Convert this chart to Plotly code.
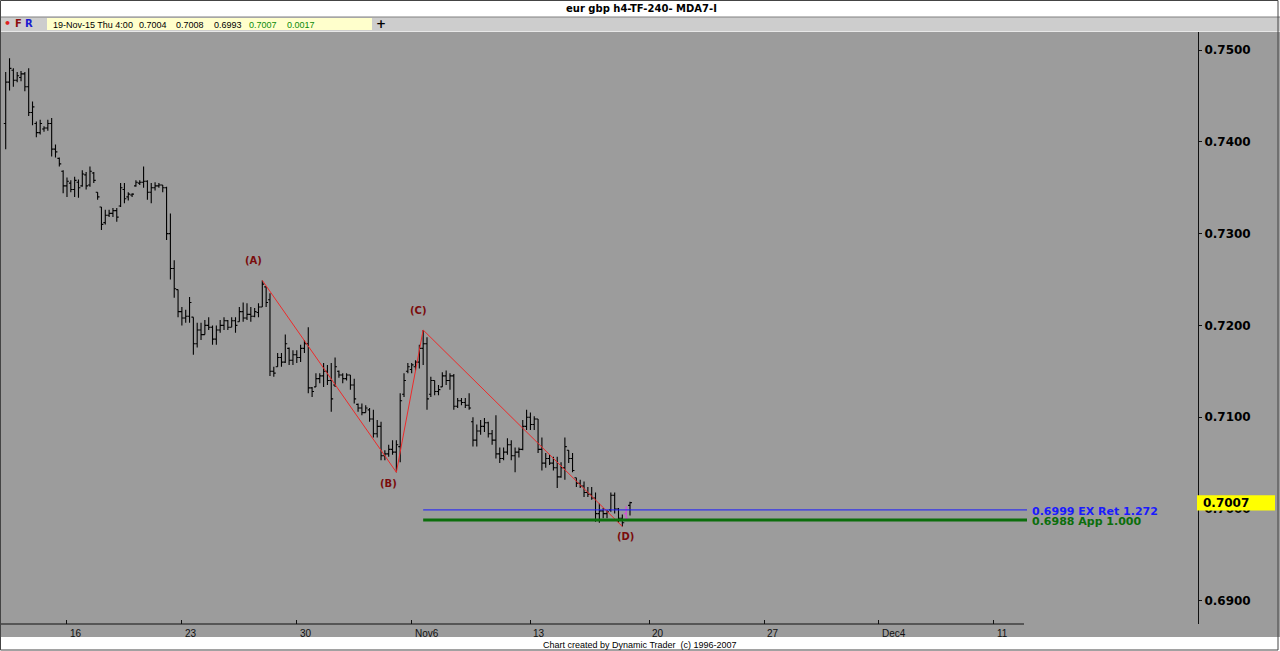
import plotly.graph_objects as go

# ---------------- data ----------------
opens = [
    0.7420, 0.7465, 0.7478, 0.7467, 0.7470, 0.7474, 0.7460, 0.7432, 0.7420, 0.7410,
    0.7414, 0.7415, 0.7420, 0.7392, 0.7382, 0.7368, 0.7352, 0.7355, 0.7348, 0.7356,
    0.7352, 0.7364, 0.7353, 0.7366, 0.7345, 0.7329, 0.7312, 0.7320, 0.7322, 0.7325,
    0.7330, 0.7348, 0.7340, 0.7342, 0.7352, 0.7355, 0.7356, 0.7357, 0.7345, 0.7350,
    0.7352, 0.7353, 0.7350, 0.7300, 0.7262, 0.7239, 0.7215, 0.7208, 0.7210, 0.7209,
    0.7180, 0.7195, 0.7190, 0.7200, 0.7198, 0.7185, 0.7195, 0.7200, 0.7205, 0.7198,
    0.7205, 0.7204, 0.7215, 0.7208, 0.7212, 0.7210, 0.7214, 0.7220, 0.7242, 0.7228,
    0.7150, 0.7155, 0.7165, 0.7160, 0.7175, 0.7162, 0.7168, 0.7165, 0.7175, 0.7180,
    0.7132, 0.7133, 0.7142, 0.7145, 0.7150, 0.7140, 0.7135, 0.7150, 0.7146, 0.7142,
    0.7146, 0.7135, 0.7114, 0.7110, 0.7105, 0.7108, 0.7098, 0.7082, 0.7090, 0.7058,
    0.7060, 0.7065, 0.7062, 0.7068, 0.7125, 0.7150, 0.7152, 0.7155, 0.7160, 0.7175,
    0.7180, 0.7125, 0.7140, 0.7128, 0.7133, 0.7145, 0.7140, 0.7145, 0.7112, 0.7118,
    0.7116, 0.7113, 0.7095, 0.7075, 0.7085, 0.7090, 0.7094, 0.7082, 0.7075, 0.7060,
    0.7055, 0.7062, 0.7070, 0.7058, 0.7062, 0.7065, 0.7090, 0.7100, 0.7092, 0.7098,
    0.7065, 0.7050, 0.7055, 0.7050, 0.7045, 0.7035, 0.7045, 0.7064, 0.7055, 0.7034,
    0.7028, 0.7025, 0.7018, 0.7016, 0.7012, 0.6995, 0.6998, 0.6995, 0.6999, 0.7015,
    0.7000, 0.6990, 0.6995, 0.7004,
]
highs = [
    0.7476, 0.7491, 0.7480, 0.7476, 0.7477, 0.7476, 0.7480, 0.7444, 0.7422, 0.7424,
    0.7417, 0.7424, 0.7426, 0.7397, 0.7383, 0.7369, 0.7361, 0.7358, 0.7362, 0.7359,
    0.7369, 0.7367, 0.7373, 0.7367, 0.7345, 0.7329, 0.7326, 0.7326, 0.7328, 0.7328,
    0.7355, 0.7355, 0.7345, 0.7344, 0.7358, 0.7358, 0.7373, 0.7358, 0.7355, 0.7356,
    0.7355, 0.7353, 0.7351, 0.7322, 0.7271, 0.7239, 0.7220, 0.7217, 0.7231, 0.7209,
    0.7203, 0.7203, 0.7206, 0.7209, 0.7200, 0.7200, 0.7206, 0.7209, 0.7206, 0.7209,
    0.7209, 0.7220, 0.7225, 0.7224, 0.7220, 0.7219, 0.7224, 0.7249, 0.7242, 0.7235,
    0.7155, 0.7170, 0.7170, 0.7190, 0.7176, 0.7173, 0.7173, 0.7179, 0.7184, 0.7198,
    0.7133, 0.7148, 0.7148, 0.7159, 0.7157, 0.7159, 0.7165, 0.7151, 0.7148, 0.7148,
    0.7146, 0.7142, 0.7115, 0.7115, 0.7113, 0.7110, 0.7108, 0.7097, 0.7095, 0.7064,
    0.7070, 0.7075, 0.7075, 0.7126, 0.7148, 0.7159, 0.7159, 0.7162, 0.7179, 0.7195,
    0.7187, 0.7144, 0.7140, 0.7135, 0.7149, 0.7151, 0.7148, 0.7147, 0.7121, 0.7121,
    0.7121, 0.7126, 0.7100, 0.7092, 0.7097, 0.7099, 0.7095, 0.7086, 0.7102, 0.7067,
    0.7067, 0.7077, 0.7075, 0.7067, 0.7067, 0.7097, 0.7108, 0.7105, 0.7101, 0.7098,
    0.7078, 0.7061, 0.7059, 0.7057, 0.7057, 0.7051, 0.7078, 0.7064, 0.7061, 0.7034,
    0.7032, 0.7030, 0.7024, 0.7024, 0.7018, 0.7006, 0.7001, 0.6999, 0.7018, 0.7018,
    0.7001, 0.6994, 0.7003, 0.7008,
]
lows = [
    0.7392, 0.7456, 0.7460, 0.7465, 0.7466, 0.7455, 0.7428, 0.7418, 0.7405, 0.7408,
    0.7411, 0.7412, 0.7384, 0.7383, 0.7373, 0.7344, 0.7340, 0.7345, 0.7340, 0.7339,
    0.7351, 0.7348, 0.7351, 0.7355, 0.7337, 0.7304, 0.7310, 0.7318, 0.7318, 0.7313,
    0.7329, 0.7333, 0.7336, 0.7340, 0.7351, 0.7353, 0.7350, 0.7337, 0.7333, 0.7347,
    0.7350, 0.7345, 0.7293, 0.7250, 0.7230, 0.7209, 0.7200, 0.7203, 0.7203, 0.7168,
    0.7176, 0.7184, 0.7190, 0.7195, 0.7179, 0.7179, 0.7192, 0.7195, 0.7195, 0.7198,
    0.7192, 0.7204, 0.7204, 0.7206, 0.7204, 0.7209, 0.7209, 0.7220, 0.7220, 0.7145,
    0.7144, 0.7155, 0.7155, 0.7159, 0.7157, 0.7157, 0.7159, 0.7160, 0.7170, 0.7126,
    0.7122, 0.7133, 0.7137, 0.7133, 0.7135, 0.7106, 0.7133, 0.7143, 0.7137, 0.7140,
    0.7130, 0.7115, 0.7106, 0.7102, 0.7105, 0.7095, 0.7078, 0.7078, 0.7053, 0.7053,
    0.7057, 0.7059, 0.7040, 0.7051, 0.7122, 0.7148, 0.7148, 0.7151, 0.7153, 0.7157,
    0.7108, 0.7122, 0.7124, 0.7124, 0.7133, 0.7135, 0.7130, 0.7108, 0.7110, 0.7113,
    0.7110, 0.7108, 0.7068, 0.7068, 0.7081, 0.7084, 0.7078, 0.7070, 0.7055, 0.7050,
    0.7053, 0.7059, 0.7053, 0.7040, 0.7056, 0.7064, 0.7086, 0.7086, 0.7086, 0.7061,
    0.7042, 0.7045, 0.7048, 0.7042, 0.7023, 0.7034, 0.7032, 0.7050, 0.7040, 0.7024,
    0.7023, 0.7013, 0.7013, 0.7010, 0.6986, 0.6985, 0.6990, 0.6990, 0.6997, 0.6995,
    0.6985, 0.6981, 0.6988, 0.6993,
]
closes = [
    0.7465, 0.7480, 0.7467, 0.7472, 0.7474, 0.7460, 0.7432, 0.7438, 0.7410, 0.7420,
    0.7415, 0.7420, 0.7392, 0.7389, 0.7376, 0.7352, 0.7357, 0.7348, 0.7358, 0.7350,
    0.7365, 0.7352, 0.7368, 0.7358, 0.7340, 0.7310, 0.7320, 0.7322, 0.7325, 0.7318,
    0.7350, 0.7338, 0.7343, 0.7343, 0.7356, 0.7356, 0.7357, 0.7345, 0.7350, 0.7352,
    0.7353, 0.7350, 0.7300, 0.7262, 0.7240, 0.7215, 0.7208, 0.7210, 0.7225, 0.7180,
    0.7195, 0.7190, 0.7200, 0.7198, 0.7185, 0.7195, 0.7200, 0.7205, 0.7198, 0.7205,
    0.7200, 0.7215, 0.7208, 0.7212, 0.7210, 0.7215, 0.7220, 0.7245, 0.7225, 0.7150,
    0.7148, 0.7165, 0.7160, 0.7180, 0.7162, 0.7168, 0.7165, 0.7175, 0.7180, 0.7132,
    0.7128, 0.7142, 0.7145, 0.7150, 0.7140, 0.7120, 0.7155, 0.7146, 0.7142, 0.7146,
    0.7135, 0.7120, 0.7110, 0.7105, 0.7110, 0.7098, 0.7082, 0.7090, 0.7058, 0.7060,
    0.7065, 0.7062, 0.7070, 0.7118, 0.7140, 0.7155, 0.7157, 0.7160, 0.7175, 0.7180,
    0.7120, 0.7140, 0.7128, 0.7130, 0.7145, 0.7140, 0.7145, 0.7112, 0.7118, 0.7116,
    0.7113, 0.7110, 0.7075, 0.7085, 0.7090, 0.7094, 0.7082, 0.7075, 0.7060, 0.7055,
    0.7062, 0.7070, 0.7058, 0.7062, 0.7065, 0.7090, 0.7100, 0.7092, 0.7098, 0.7065,
    0.7050, 0.7055, 0.7050, 0.7045, 0.7035, 0.7045, 0.7068, 0.7055, 0.7042, 0.7028,
    0.7025, 0.7018, 0.7016, 0.7012, 0.6995, 0.6998, 0.6995, 0.6997, 0.7015, 0.7000,
    0.6990, 0.6985, 0.6990, 0.7007,
]
bar_index = list(range(len(closes)))
highlight_bars = [162]          # bar drawn in magenta

# x-axis (4h bar index) date labels: Fridays
date_tick_index = [16, 46, 76, 106, 137, 168, 198, 228, 258]
date_tick_labels = ["16", "23", "30", "Nov6", "13", "20", "27", "Dec4", "11"]

price_ticks = [0.69, 0.70, 0.71, 0.72, 0.73, 0.74, 0.75]

# wave pivots
wave_names = ["(A)", "(B)", "(C)", "(D)"]
wave_index = [67, 102, 109, 161]
wave_kind = ["high", "low", "high", "low"]

# projection levels
level_values = [0.6999, 0.6988]
level_names = ["EX Ret 1.272", "App 1.000"]

title_text = "eur gbp h4-TF-240- MDA7-I"
last_bar_time = "19-Nov-15 Thu 4:00"
footer_text = "Chart created by Dynamic Trader  (c) 1996-2007"

# ---------------- layout geometry ----------------
W, H = 1280, 651
PL, PR, PT, PB = 0, 82, 32, 27
PW, PH = W - PL - PR, H - PT - PB      # 1198 x 592
BAR_PX = 3.83
FIRST_PX = 5.7
X_RANGE = [-FIRST_PX / BAR_PX, (PW - FIRST_PX) / BAR_PX]
Y_RANGE = [0.687473, 0.751961]
LEVEL_END = (1027 - FIRST_PX) / BAR_PX

def px(x):      # pixel -> paper x
    return (x - PL) / PW

def py(y):      # pixel -> paper y
    return (H - PB - y) / PH

GRAY = "#9c9c9c"
FONT = "DejaVu Sans"

fig = go.Figure()

norm_idx = [i for i in bar_index if i not in highlight_bars]
fig.add_trace(go.Ohlc(
    x=norm_idx,
    open=[opens[i] for i in norm_idx], high=[highs[i] for i in norm_idx],
    low=[lows[i] for i in norm_idx], close=[closes[i] for i in norm_idx],
    increasing=dict(line=dict(color="#000000", width=1.1)),
    decreasing=dict(line=dict(color="#000000", width=1.1)),
    tickwidth=0.5, hoverinfo="skip", showlegend=False,
))
fig.add_trace(go.Ohlc(
    x=highlight_bars,
    open=[opens[i] for i in highlight_bars], high=[highs[i] for i in highlight_bars],
    low=[lows[i] for i in highlight_bars], close=[closes[i] for i in highlight_bars],
    increasing=dict(line=dict(color="#e040e0", width=1.1)),
    decreasing=dict(line=dict(color="#e040e0", width=1.1)),
    tickwidth=0.5, hoverinfo="skip", showlegend=False,
))

# wave line
wave_price = [highs[i] if k == "high" else lows[i] for i, k in zip(wave_index, wave_kind)]
fig.add_trace(go.Scatter(
    x=wave_index, y=wave_price, mode="lines",
    line=dict(color="#ee2a2a", width=1), hoverinfo="skip", showlegend=False,
))

# projection levels
level_colors = ["#1a1aff", "#0b6e0b"]
level_widths = [1, 3]
for val, name, col, w in zip(level_values, level_names, level_colors, level_widths):
    fig.add_trace(go.Scatter(
        x=[wave_index[2], LEVEL_END], y=[val, val], mode="lines",
        line=dict(color=col, width=w), hoverinfo="skip", showlegend=False,
    ))

shapes = []
# gray chart body (beyond plot area)
shapes.append(dict(type="rect", xref="paper", yref="paper", x0=px(0), x1=px(W),
                   y0=py(637), y1=py(32), fillcolor=GRAY, line=dict(width=0), layer="below"))
# toolbar
shapes.append(dict(type="rect", xref="paper", yref="paper", x0=px(0), x1=px(W),
                   y0=py(32), y1=py(17), fillcolor="#cdcdcd", line=dict(width=0), layer="below"))
shapes.append(dict(type="line", xref="paper", yref="paper", x0=px(0), x1=px(W),
                   y0=py(17), y1=py(17), line=dict(color="#808080", width=1)))
shapes.append(dict(type="line", xref="paper", yref="paper", x0=px(0), x1=px(W),
                   y0=py(31.5), y1=py(31.5), line=dict(color="#e8e8e8", width=1)))
shapes.append(dict(type="rect", xref="paper", yref="paper", x0=px(47), x1=px(372),
                   y0=py(30), y1=py(18), fillcolor="#ffffcc", line=dict(width=0)))
# x axis line (only under the dated area)
shapes.append(dict(type="line", xref="paper", yref="paper", x0=px(0), x1=px(1024),
                   y0=0, y1=0, line=dict(color="#111111", width=1)))
# footer white
shapes.append(dict(type="rect", xref="paper", yref="paper", x0=px(0), x1=px(W),
                   y0=py(H), y1=py(637), fillcolor="#ffffff", line=dict(width=0)))
# outer frame
shapes.append(dict(type="rect", xref="paper", yref="paper", x0=px(0.5), x1=px(W - 2),
                   y0=py(H - 1), y1=py(0.5), line=dict(color="#444444", width=1)))
# current price box
shapes.append(dict(type="rect", xref="paper", yref="y", x0=px(1197), x1=px(1275),
                   y0=closes[-1] - 0.00085, y1=closes[-1] + 0.00080,
                   fillcolor="#ffff00", line=dict(width=0)))

ann = []

def note(text, x, y, size, color, family=FONT, xanchor="center", yanchor="middle",
         xref="paper", yref="paper", **kw):
    ann.append(dict(text=text, x=x, y=y, xref=xref, yref=yref, xanchor=xanchor,
                    yanchor=yanchor, showarrow=False,
                    font=dict(family=family, size=size, color=color), **kw))

note(f"<b>{title_text}</b>", px(641), py(8.5), 10, "#000")
note("<b>•</b>", px(7), py(24), 11, "#e02020")
note("<b>F</b>", px(18), py(24), 10, "#8b1010")
note("<b>R</b>", px(29), py(24), 10, "#1a1ad0")
note("<b>+</b>", px(381), py(24), 12, "#000")
change = closes[-1] - closes[-2]
info_items = [(last_bar_time, 51, "#000"), (f"{opens[-1]:.4f}", 137, "#000"),
              (f"{highs[-1]:.4f}", 174, "#000"), (f"{lows[-1]:.4f}", 212, "#000"),
              (f"{closes[-1]:.4f}", 247, "#0a8a0a"), (f"{change:.4f}", 285, "#0a8a0a")]
for txt, xx, col in info_items:
    note(txt, px(xx), py(24.5), 9, col, family="Liberation Sans", xanchor="left")
# x tick labels
for idx, lab in zip(date_tick_index, date_tick_labels):
    note(lab, idx, 0, 10, "#111", family="Liberation Sans", xanchor="left",
         xref="x", xshift=1, yshift=-9)
# wave labels
wave_offsets = [(-9, 20), (-8, -11), (-5, 19), (3, -10)]
for name, i, p, (dx, dy) in zip(wave_names, wave_index, wave_price, wave_offsets):
    note(f"<b>{name}</b>", i, p, 10, "#7a0c0c", xref="x", yref="y", xshift=dx, yshift=dy)
# level labels
for val, name, col in zip(level_values, level_names, level_colors):
    note(f"<b>{val:.4f} {name}</b>", LEVEL_END, val, 11, col, xanchor="left",
         xref="x", yref="y", xshift=3, yshift=-1.5)
# current price label
note(f"<b>{closes[-1]:.4f}</b>", px(1201), closes[-1], 12, "#000", xanchor="left", yref="y")
# footer
note(footer_text, px(640), py(644.5), 9, "#000", family="Liberation Sans")

fig.update_layout(
    width=W, height=H, autosize=False,
    margin=dict(l=PL, r=PR, t=PT, b=PB, pad=0),
    paper_bgcolor="#ffffff", plot_bgcolor=GRAY,
    showlegend=False, hovermode=False,
    shapes=shapes, annotations=ann,
    xaxis=dict(range=X_RANGE, showgrid=False, zeroline=False, showline=False,
               tickmode="array", tickvals=date_tick_index, showticklabels=False,
               ticks="inside", ticklen=4, tickcolor="#111", rangeslider=dict(visible=False),
               fixedrange=True),
    yaxis=dict(range=Y_RANGE, side="right", showgrid=False, zeroline=False,
               showline=True, linecolor="#111", linewidth=1, mirror=False,
               tickmode="array", tickvals=price_ticks,
               ticktext=[f"{v:.4f}" for v in price_ticks],
               ticks="outside", ticklen=3, tickcolor="#111",
               tickfont=dict(family=FONT, size=12, color="#000", weight="bold"),
               fixedrange=True),
)

fig.write_html(
    "out.html",
    config={"displayModeBar": False, "staticPlot": True},
    post_script="document.body.style.margin='0px';document.body.style.overflow='hidden';",
)
